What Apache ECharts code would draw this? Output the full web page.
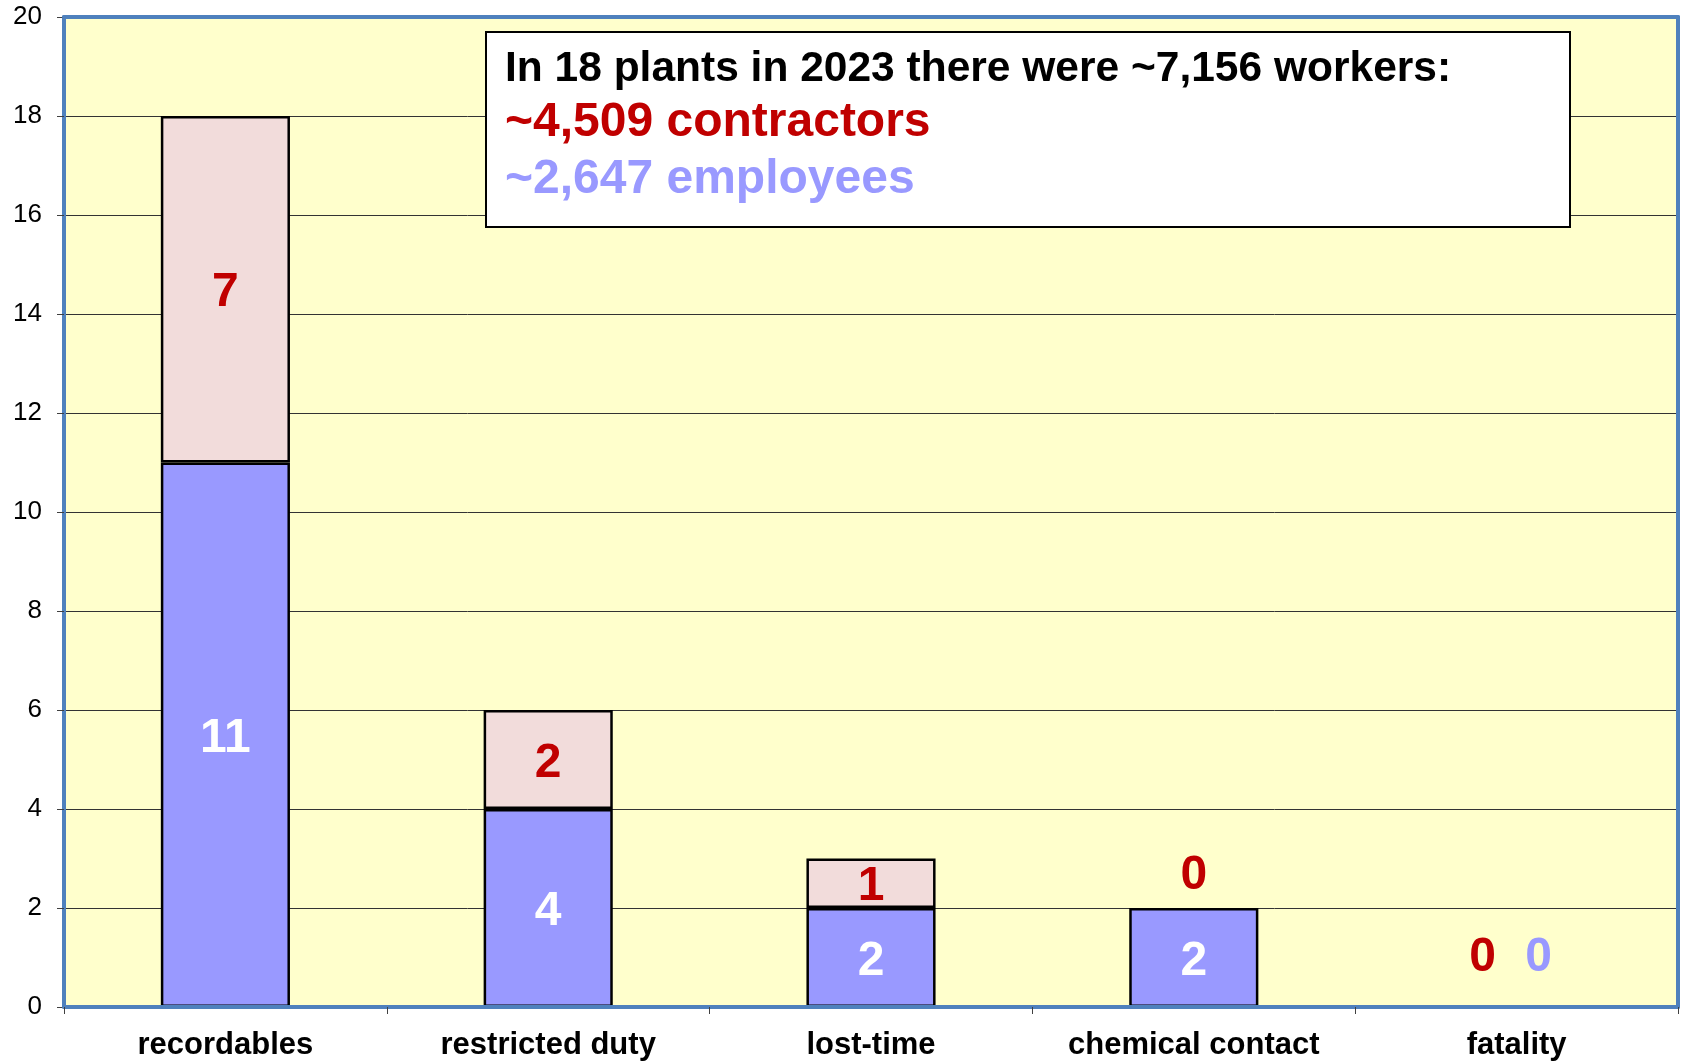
<!DOCTYPE html>
<html>
<head>
<meta charset="utf-8">
<script src="https://cdn.jsdelivr.net/npm/echarts@6/dist/echarts.min.js"></script>
<style>
  html, body { margin: 0; padding: 0; background: #fff; }
  #chart { width: 1686px; height: 1064px; }
</style>
</head>
<body>
<div id="chart"></div>
<script>
// incident counts, 18 plants, 2023
const categories = ['recordables', 'restricted duty', 'lost-time', 'chemical contact', 'fatality'];
const employees = [11, 4, 2, 2, 0];
const contractors = [7, 2, 1, 0, 0];
const noteLines = [
  'In 18 plants in 2023 there were ~7,156 workers:',
  '~4,509 contractors',
  '~2,647 employees'
];

const FONT = '"Liberation Sans", Arial, sans-serif';
const RED = '#C00000';
const BLUE = '#9999FF';
const PINK = '#F2DCDB';
const FRAME = '#4F81BD';

// zero bars: no outline, label lifted above the stack
function buildData(values, others, isContractor) {
  return values.map(function (v, i) {
    const item = { value: v };
    if (v === 0) {
      item.itemStyle = { borderWidth: 0 };
      if (others[i] === 0) {
        item.label = {
          position: 'top',
          offset: [isContractor ? -34 : 22, -20],
          color: isContractor ? RED : BLUE
        };
      } else {
        item.label = { position: 'top', distance: 8, offset: [0, 0] };
      }
    }
    return item;
  });
}

const chart = echarts.init(document.getElementById('chart'));

const option = {
  animation: false,
  textStyle: { fontFamily: FONT },
  grid: {
    left: 64, right: 8, top: 17, bottom: 57,
    show: true,
    backgroundColor: '#FFFFCC',
    borderWidth: 0
  },
  xAxis: [
    {
      type: 'category',
      data: categories,
      position: 'bottom',
      z: 3,
      axisLine: { lineStyle: { color: FRAME, width: 4 } },
      axisTick: { show: true, interval: 0, length: 7, lineStyle: { color: '#404040', width: 1 } },
      axisLabel: { interval: 0, color: '#000', fontSize: 31, fontWeight: 'bold', margin: 23, fontFamily: FONT }
    },
    {
      type: 'category',
      data: categories,
      position: 'top',
      z: 3,
      axisLine: { onZero: false, lineStyle: { color: FRAME, width: 4 } },
      axisTick: { show: false },
      axisLabel: { show: false }
    }
  ],
  yAxis: [
    {
      type: 'value',
      min: 0, max: 20, interval: 2,
      position: 'left',
      axisLine: { show: true, lineStyle: { color: FRAME, width: 4 } },
      axisTick: { show: true, length: 7, lineStyle: { color: '#404040', width: 1 } },
      axisLabel: { color: '#000', fontSize: 26, margin: 22, fontFamily: FONT },
      splitLine: { show: true, lineStyle: { color: '#333', width: 1 } }
    },
    {
      type: 'value',
      min: 0, max: 20, interval: 2,
      position: 'right',
      z: 3,
      axisLine: { show: true, onZero: false, lineStyle: { color: FRAME, width: 4 } },
      axisTick: { show: false },
      axisLabel: { show: false },
      splitLine: { show: false }
    }
  ],
  series: [
    {
      name: 'employees',
      type: 'bar',
      stack: 'all',
      barWidth: '40%',
      data: buildData(employees, contractors, false),
      itemStyle: { color: BLUE, borderColor: '#000', borderWidth: 2.5 },
      label: {
        show: true, position: 'inside', offset: [0, 4],
        color: '#fff', fontSize: 48, fontWeight: 'bold', fontFamily: FONT
      }
    },
    {
      name: 'contractors',
      type: 'bar',
      stack: 'all',
      barWidth: '40%',
      data: buildData(contractors, employees, true),
      itemStyle: { color: PINK, borderColor: '#000', borderWidth: 2.5 },
      label: {
        show: true, position: 'inside', offset: [0, 4],
        color: RED, fontSize: 48, fontWeight: 'bold', fontFamily: FONT
      }
    }
  ],
  graphic: [
    {
      type: 'rect',
      z: 100,
      shape: { x: 486, y: 32, width: 1084, height: 195 },
      style: { fill: '#fff', stroke: '#000', lineWidth: 2 }
    },
    {
      type: 'text', z: 101, x: 505, y: 69,
      style: { text: noteLines[0], fill: '#000', font: 'bold 42.5px ' + FONT, verticalAlign: 'middle' }
    },
    {
      type: 'text', z: 101, x: 505, y: 123,
      style: { text: noteLines[1], fill: RED, font: 'bold 48px ' + FONT, verticalAlign: 'middle' }
    },
    {
      type: 'text', z: 101, x: 505, y: 180,
      style: { text: noteLines[2], fill: BLUE, font: 'bold 48px ' + FONT, verticalAlign: 'middle' }
    }
  ]
};

chart.setOption(option);
</script>
</body>
</html>
